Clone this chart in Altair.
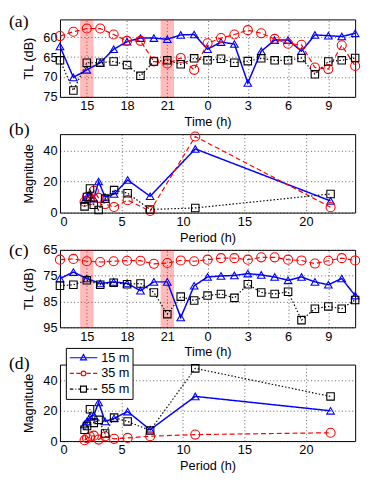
import altair as alt
import pandas as pd

# ---------------- data ----------------
hours = list(range(13, 36))          # 13:00 .. 11:00 next day
time_ticks = [15, 18, 21, 24, 27, 30, 33]
shade_start = [14.5, 20.5]
shade_end = [15.5, 21.5]

series = ["15 m", "35 m", "55 m"]
colors = ["#0000ff", "#ff0000", "#000000"]

# panel (a) transmission loss
tl_a_15 = [62.3, 70.1, 68.2, 66.4, 63.0, 61.1, 60.2, 60.2, 60.5, 59.4, 59.3, 63.0,
           61.2, 61.7, 71.5, 63.5, 60.7, 60.7, 63.5, 59.4, 59.6, 59.8, 59.0]
tl_a_35 = [59.7, 58.6, 57.8, 57.8, 59.3, 60.9, 60.9, 66.1, 66.6, 65.2, 68.2, 61.5,
           60.2, 59.3, 58.2, 59.0, 60.4, 61.6, 61.9, 67.6, 68.0, 62.0, 67.2]
tl_a_55 = [65.8, 73.4, 66.4, 66.4, 66.1, 67.0, 69.7, 66.1, 65.8, 66.8, 65.3, 65.8,
           65.4, 66.4, 66.0, 65.3, 65.8, 65.8, 65.2, 69.3, 66.1, 65.8, 65.2]

# panel (c) transmission loss
tl_c_15 = [76.1, 73.6, 76.1, 78.0, 77.4, 78.0, 80.8, 77.4, 77.4, 91.2, 78.9, 75.5,
           75.1, 74.9, 74.2, 74.7, 75.5, 76.8, 75.5, 77.4, 78.5, 76.1, 82.7]
tl_c_35 = [68.8, 68.5, 69.4, 69.7, 69.4, 69.2, 69.2, 70.4, 70.1, 69.1, 69.4, 68.8,
           68.2, 68.2, 68.8, 67.9, 67.9, 68.8, 69.1, 70.3, 69.2, 68.2, 69.1]
tl_c_55 = [78.9, 78.5, 76.8, 78.5, 77.7, 78.3, 78.0, 81.5, 89.9, 83.1, 84.6, 82.7,
           82.1, 83.6, 78.3, 81.5, 82.1, 81.2, 92.2, 87.8, 86.9, 87.8, 84.4]

# spectra
periods = [22, 11, 7.33, 5.5, 4.4, 3.67, 3.14, 2.75, 2.44, 2.2, 2.0]
mag_b_15 = [7.5, 41, 10.5, 21, 12, 10, 20, 9, 12, 10, 8]
mag_b_35 = [3.5, 49, 1, 8, 3.6, 5.5, 9.5, 14, 8, 10, 7]
mag_b_55 = [12, 3, 2, 12.5, 14.5, 9, 1.7, 5, 15.5, 10, 4]
mag_d_15 = [20, 29.5, 7.5, 19.5, 15, 13, 25.5, 17, 16, 13, 11]
mag_d_35 = [5.5, 4.3, 3.2, 2.1, 1.5, 3.2, 1, 3.6, 3, 2, 0.6]
mag_d_55 = [29.5, 48, 7, 13, 15.5, 5, 14, 12, 21, 10, 7.5]

# ---------------- styles ----------------
W = 301
FONT = "Liberation Sans"
dashes = {"15 m": [1, 0], "35 m": [5, 3], "55 m": [1.5, 2]}
widths = {"15 m": 1.5, "35 m": 1.2, "55 m": 1.2}
shapes = {"15 m": "triangle-up", "35 m": "circle", "55 m": "square"}
sizes = {"15 m": 60, "35 m": 85, "55 m": 58}
col = dict(zip(series, colors))

# legend glyphs: symbol size 144 -> 6 px per unit, centre of symbol box at unit 0;
# line runs from unit -1 to 3.67 (28 px), marker centred at unit 1.33
legend_paths = [
    "M-1,0H3.67M1.33,-0.55L1.83,0.35L0.83,0.35Z",
    "M-1,0H-0.3M0.1,0H0.8M1.86,0H2.56M2.96,0H3.67"
    "M1.73,0A0.4,0.4 0 1,1 0.93,0A0.4,0.4 0 1,1 1.73,0Z",
    "M-1,0H-0.4M-0.05,0H0.1M0.45,0H0.8M1.86,0H2.21M2.56,0H2.71M3.06,0H3.67"
    "M0.83,-0.5H1.83V0.5H0.83Z",
]


def long_df(xs, ys_list, xname, yname):
    rows = []
    for s, ys in zip(series, ys_list):
        for x, y in zip(xs, ys):
            rows.append({xname: x, yname: y, "series": s})
    return pd.DataFrame(rows)


def series_layers(df, xenc, yenc, xname):
    layers = []
    for s in series:
        base = alt.Chart(df).transform_filter(alt.datum.series == s)
        line = base.mark_line(color=col[s], strokeDash=dashes[s],
                              strokeWidth=widths[s]).encode(
            x=xenc, y=yenc, order=alt.Order(f"{xname}:Q"))
        pts = base.mark_point(shape=shapes[s], color=col[s], size=sizes[s],
                              strokeWidth=1.1, filled=False, opacity=1).encode(
            x=xenc, y=yenc)
        layers += [line, pts]
    return layers


def label_layer(text, ypos):
    return alt.Chart(pd.DataFrame({"l": [text]})).mark_text(
        align="left", baseline="top", font="Liberation Serif", fontSize=18,
        color="black").encode(x=alt.value(-52), y=alt.value(ypos), text="l:N")


def tl_panel(ys_list, ydom, yticks, label, h, ly):
    df = long_df(hours, ys_list, "hour", "tl")
    xenc = alt.X("hour:Q", scale=alt.Scale(domain=[13, 35], nice=False, zero=False),
                 axis=alt.Axis(values=time_ticks, labelExpr="datum.value % 24",
                               title="Time (h)"))
    yenc = alt.Y("tl:Q", scale=alt.Scale(domain=ydom, reverse=True, nice=False, zero=False),
                 axis=alt.Axis(values=yticks, title="TL (dB)"))
    shade = alt.Chart(pd.DataFrame({"s": shade_start, "e": shade_end})).mark_rect(
        color="#ff0000", opacity=0.27).encode(
        x=alt.X("s:Q", scale=alt.Scale(domain=[13, 35], nice=False, zero=False)),
        x2="e:Q", y=alt.value(0), y2=alt.value(h))
    return alt.layer(shade, *series_layers(df, xenc, yenc, "hour"),
                     label_layer(label, ly)).properties(width=W, height=h)


def mag_panel(ys_list, label, h, ly, legend=False):
    df = long_df(periods, ys_list, "period", "mag")
    xenc = alt.X("period:Q", scale=alt.Scale(domain=[0, 24], nice=False),
                 axis=alt.Axis(values=[0, 5, 10, 15, 20], title="Period (h)"))
    yenc = alt.Y("mag:Q", scale=alt.Scale(domain=[0, 50.5], nice=False),
                 axis=alt.Axis(values=[0, 20, 40], title="Magnitude"))
    layers = series_layers(df, xenc, yenc, "period")
    layers.append(label_layer(label, ly))
    if legend:
        leg = dict(orient="none", legendX=6, legendY=-17, title=None,
                   symbolSize=144, symbolStrokeWidth=1.2, symbolOpacity=1,
                   labelFont=FONT, labelFontSize=13, labelColor="black",
                   labelOffset=19, rowPadding=2, padding=3,
                   strokeColor="black", fillColor="white")
        lg = alt.Chart(pd.DataFrame({"series": series})).transform_filter(
            "datum.series == 'none'").mark_point(filled=False).encode(
            shape=alt.Shape("series:N", scale=alt.Scale(domain=series, range=legend_paths),
                            legend=alt.Legend(**leg)),
            stroke=alt.Stroke("series:N", scale=alt.Scale(domain=series, range=colors),
                              legend=alt.Legend(**leg)))
        layers.append(lg)
    return alt.layer(*layers).properties(width=W, height=h)


pa = tl_panel([tl_a_15, tl_a_35, tl_a_55], [55.5, 75], [60, 65, 70, 75], "(a)", 79, -6)
pb = mag_panel([mag_b_15, mag_b_35, mag_b_55], "(b)", 80, -13)
pc = tl_panel([tl_c_15, tl_c_35, tl_c_55], [65, 95], [65, 75, 85, 95], "(c)", 79, -8)
pd_ = mag_panel([mag_d_15, mag_d_35, mag_d_55], "(d)", 78, -10, legend=True)

chart = alt.vconcat(pa, pb, pc, pd_, spacing=38, bounds="flush").resolve_legend(
    shape="independent", stroke="independent"
).properties(
    padding={"left": 0, "top": 0, "right": 0, "bottom": 0}
).configure_view(stroke="black", strokeWidth=1).configure_axis(
    grid=True, gridColor="black", gridDash=[1, 2.5], gridWidth=0.7, gridOpacity=0.9,
    domain=False, ticks=False, labelFont=FONT, labelFontSize=13, labelColor="black",
    titleFont=FONT, titleFontSize=13, titleColor="black", titleFontWeight="normal",
    labelPadding=3, titlePadding=3
).configure_axisY(titlePadding=8)

chart.save("out.html", embed_options={"renderer": "svg", "actions": False})
